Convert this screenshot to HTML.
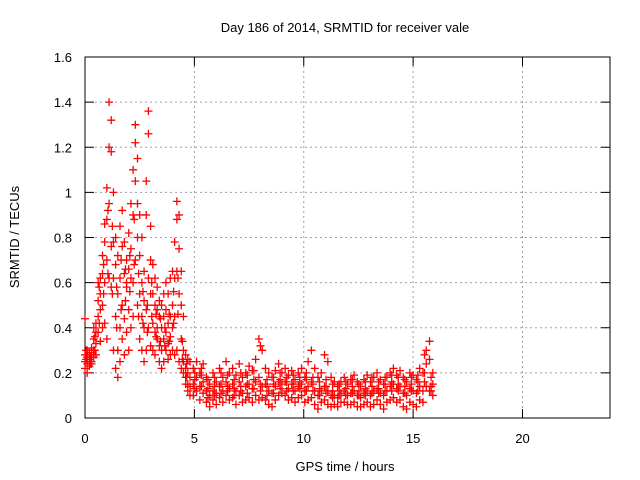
<!DOCTYPE html>
<html><head><meta charset="utf-8"><style>
body{margin:0;background:#fff}
svg{display:block;font-family:"Liberation Sans",sans-serif;font-size:13px}
</style></head><body>
<svg id="chart" width="640" height="480" viewBox="0 0 640 480">
<rect width="640" height="480" fill="#fff"/>
<text x="345" y="32" text-anchor="middle">Day 186 of 2014, SRMTID for receiver vale</text>
<text transform="translate(19,237) rotate(-90)" text-anchor="middle">SRMTID / TECUs</text>
<text x="345" y="471" text-anchor="middle">GPS time / hours</text>
<g id="grid"></g><g id="axes"></g><g id="marks"></g>
</svg>
<script>
const xTicks=[0,5,10,15,20];
const yTicks=[0,0.2,0.4,0.6,0.8,1,1.2,1.4,1.6];
const yTickLabels=["0","0.2","0.4","0.6","0.8","1","1.2","1.4","1.6"];
const earlyTimes=[0,0.1,0.2,0.3,0.4,0.5,0.6,0.7,0.8,0.9,1.0,1.1,1.2,1.3,1.4,1.5,1.6,1.7,1.8,1.9,2.0,2.1,2.2,2.3,2.4,2.5,2.6,2.7,2.8,2.9,3.0,3.1,3.2,3.3,3.4,3.5,3.6,3.7,3.8,3.9,4.0,4.1,4.2,4.3,4.4,4.5,4.6,4.7,4.8];
const earlyVals=[[.25,.22,.28,.44],[.24,.27,.30,.20],[.26,.23,.29,.25],[.28,.25,.31,.24],[.30,.27,.35,.40],[.33,.38,.28,.42],[.45,.60,.38,.52],[.55,.62,.48,.34],[.64,.50,.72,.40],[.78,.60,.86,.42],[1.02,.88,.70,.35],[1.20,1.40,.95,.62],[1.32,1.18,.76,.58],[1.00,.78,.62,.30],[.80,.68,.45,.22],[.72,.55,.30,.18],[.85,.62,.40,.25],[.92,.76,.50,.35],[.78,.64,.44,.28],[.70,.58,.38,.60],[.82,.66,.48,.30],[.95,.75,.62,.40],[1.10,.90,.60,.45],[1.30,1.22,1.05,.70],[1.15,.95,.80,.50],[.90,.72,.55,.35],[.80,.60,.45,.30],[.65,.52,.40,.25],[.90,1.05,.48,.30],[1.36,1.26,.62,.40],[.85,.70,.55,.32],[.68,.55,.42,.30],[.62,.50,.38,.28],[.58,.48,.35,.40],[.52,.45,.32,.25],[.50,.40,.30,.22],[.55,.45,.35,.25],[.60,.48,.38,.30],[.55,.42,.33,.26],[.62,.45,.36,.28],[.65,.50,.40,.30],[.78,.62,.45,.28],[.96,.88,.65,.30],[.90,.75,.55,.25],[.65,.50,.35,.22],[.45,.30,.25,.20],[.28,.22,.18,.15],[.26,.20,.15,.12],[.25,.18,.14,.10]];
const earlyTimes2=[0.05,0.25,0.45,0.65,0.85,1.05,1.25,1.45,1.65,1.85,2.05,2.25,2.45,2.65,2.85,3.05,3.25,3.45,3.65,3.85,4.05,4.25,4.45,4.65];
const earlyVals2=[[.26,.30],[.27,.24],[.36,.30],[.58,.42],[.68,.55],[.92,.64],[.85,.55],[.58,.40],[.70,.48],[.66,.52],[.72,.56],[.88,.68],[.64,.45],[.56,.42],[.50,.38],[.60,.45],[.46,.36],[.44,.34],[.40,.32],[.46,.34],[.56,.42],[.62,.46],[.34,.26],[.24,.18]];
const lateTimes=[4.95,5.1,5.25,5.4,5.55,5.7,5.85,6.0,6.15,6.3,6.45,6.6,6.75,6.9,7.05,7.2,7.35,7.5,7.65,7.8,7.95,8.1,8.25,8.4,8.55,8.7,8.85,9.0,9.15,9.3,9.45,9.6,9.75,9.9,10.05,10.2,10.35,10.5,10.65,10.8,10.95,11.1,11.25,11.4,11.55,11.7,11.85,12.0,12.15,12.3,12.45,12.6,12.75,12.9,13.05,13.2,13.35,13.5,13.65,13.8,13.95,14.1,14.25,14.4,14.55,14.7,14.85,15.0,15.15,15.3,15.45,15.6,15.75,15.9];
const lateVals=[[.22,.15,.10],[.25,.18,.12],[.20,.14,.08],[.24,.16,.11],[.18,.12,.07],[.15,.10,.05],[.20,.12,.08],[.16,.11,.06],[.22,.14,.09],[.18,.12,.07],[.25,.16,.10],[.20,.13,.08],[.22,.15,.09],[.19,.12,.06],[.24,.16,.10],[.18,.11,.07],[.20,.14,.08],[.23,.15,.09],[.21,.13,.07],[.26,.16,.10],[.35,.18,.08],[.30,.14,.09],[.22,.15,.08],[.20,.12,.06],[.18,.11,.05],[.21,.14,.08],[.24,.16,.10],[.20,.15,.11],[.22,.16,.10],[.19,.13,.08],[.21,.15,.09],[.17,.12,.07],[.20,.14,.09],[.22,.15,.10],[.18,.12,.07],[.25,.14,.08],[.30,.16,.09],[.22,.12,.06],[.18,.10,.04],[.20,.12,.07],[.28,.14,.08],[.25,.12,.06],[.18,.10,.05],[.16,.10,.06],[.14,.09,.05],[.16,.11,.07],[.18,.12,.07],[.15,.10,.06],[.17,.11,.06],[.19,.12,.07],[.16,.10,.05],[.14,.09,.05],[.17,.11,.06],[.19,.12,.07],[.16,.10,.05],[.18,.12,.06],[.20,.13,.08],[.17,.11,.06],[.15,.10,.04],[.18,.12,.07],[.20,.14,.08],[.22,.15,.09],[.19,.13,.07],[.21,.14,.08],[.18,.11,.05],[.16,.10,.04],[.20,.13,.07],[.19,.12,.06],[.17,.11,.05],[.22,.14,.08],[.20,.12,.07],[.30,.24,.14],[.34,.26,.12],[.20,.15,.10]];
const lateTimes2=[5.02,5.32,5.62,5.92,6.22,6.52,6.82,7.12,7.42,7.72,8.02,8.32,8.62,8.92,9.22,9.52,9.82,10.12,10.42,10.72,11.02,11.32,11.62,11.92,12.22,12.52,12.82,13.12,13.42,13.72,14.02,14.32,14.62,14.92,15.22,15.52,15.82];
const lateVals2=[[.17,.13,.20],[.19,.14,.22],[.13,.17,.09],[.14,.18,.10],[.15,.20,.11],[.14,.19,.12],[.13,.17,.10],[.14,.20,.12],[.15,.19,.11],[.17,.21,.13],[.32,.15,.12],[.17,.14,.10],[.15,.18,.11],[.17,.20,.13],[.16,.18,.12],[.15,.19,.12],[.16,.18,.13],[.17,.20,.12],[.15,.12,.18],[.13,.10,.16],[.14,.11,.17],[.12,.09,.15],[.12,.10,.15],[.13,.10,.16],[.14,.11,.17],[.12,.10,.15],[.13,.10,.16],[.14,.11,.18],[.13,.11,.16],[.15,.12,.18],[.16,.12,.19],[.15,.12,.18],[.14,.11,.17],[.15,.12,.18],[.16,.12,.19],[.28,.20,.16],[.18,.14,.12]];
const NS="http://www.w3.org/2000/svg";
const X0=85,X1=610,Y0=418,Y1=57;
function xs(t){return X0+(t/24)*(X1-X0);}
function ys(v){return Y0-(v/1.6)*(Y0-Y1);}
function mk(tag,a,parent){const e=document.createElementNS(NS,tag);for(const k in a)e.setAttribute(k,a[k]);parent.appendChild(e);return e;}
const grid=document.getElementById('grid'),axes=document.getElementById('axes'),marks=document.getElementById('marks');
yTicks.forEach((v,i)=>{
  const y=ys(v);
  if(i>0&&i<yTicks.length-1){const g=mk('line',{x1:X0,x2:X1,y1:y,y2:y,stroke:'#a0a0a0','stroke-dasharray':'2,3'},grid);
  
  }
  mk('line',{x1:X0,x2:X0+9,y1:y,y2:y,stroke:'#000'},axes);
  mk('line',{x1:X1,x2:X1-9,y1:y,y2:y,stroke:'#000'},axes);
  const t=mk('text',{x:72,y:y+5,'text-anchor':'end'},axes);t.textContent=yTickLabels[i];
  
  
});
xTicks.forEach(v=>{
  const x=xs(v);
  if(v>0){const g=mk('line',{x1:x,x2:x,y1:Y0,y2:Y1,stroke:'#a0a0a0','stroke-dasharray':'2,3'},grid);
  
  }
  mk('line',{x1:x,x2:x,y1:Y0,y2:Y0-9,stroke:'#000'},axes);
  mk('line',{x1:x,x2:x,y1:Y1,y2:Y1+9,stroke:'#000'},axes);
  const t=mk('text',{x:x,y:443,'text-anchor':'middle'},axes);t.textContent=String(v);
  
  
});
const box=mk('rect',{x:X0,y:Y1,width:X1-X0,height:Y0-Y1,fill:'none',stroke:'#000'},axes);


function plus(t,v){
  const x=xs(t),y=ys(v);
  const p=mk('path',{d:`M${x-4},${y}h8M${x},${y-4}v8`,stroke:'#f00','stroke-width':1.3,fill:'none'},marks);
  
  
}
earlyTimes.forEach((t,i)=>earlyVals[i].forEach(v=>plus(t,v)));
earlyTimes2.forEach((t,i)=>earlyVals2[i].forEach(v=>plus(t,v)));
lateTimes.forEach((t,i)=>lateVals[i].forEach(v=>plus(t,v)));
lateTimes2.forEach((t,i)=>lateVals2[i].forEach(v=>plus(t,v)));
</script>
</body></html>
